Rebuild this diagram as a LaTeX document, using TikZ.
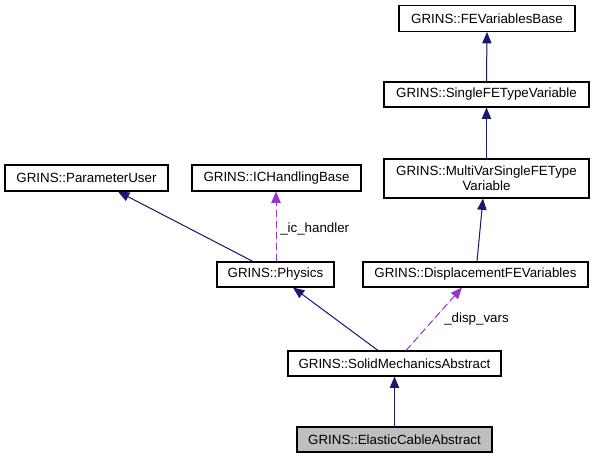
\documentclass[tikz,border=0pt]{standalone}
\usepackage{fontspec}
\setmainfont{Liberation Sans}
\usepackage{tikz}
\usetikzlibrary{arrows.meta,positioning,calc}

\definecolor{inhblue}{HTML}{191970}
\definecolor{usepurple}{HTML}{9A32CD}
\definecolor{curgray}{HTML}{BFBFBF}

\begin{document}
\begin{tikzpicture}[
  x=0.75pt, y=-0.75pt,
  font=\fontsize{10}{11}\selectfont,
  cls/.style={draw=black, line width=0.8pt, rectangle, inner sep=0pt, minimum height=25*0.75pt, align=center, fill=white},
  inh/.style={-{Triangle[length=8.5pt, width=7pt]}, line width=0.75pt, draw=inhblue, fill=inhblue},
  usage/.style={-{Triangle[length=8.5pt, width=7pt]}, line width=0.75pt, draw=usepurple, fill=usepurple, dash pattern=on 5.25pt off 3pt},
  lbl/.style={anchor=west, inner sep=0pt},
]
\useasboundingbox (0,0) rectangle (594,459);

% --- Right column: variables ---
\node[cls, minimum width=176*0.75pt, minimum height=26*0.75pt] (fevb) at (487,18.5) {GRINS::FEVariablesBase};
\node[cls, minimum width=205*0.75pt] (sfetv) at (486.5,94.5) {GRINS::SingleFETypeVariable};
\node[cls, minimum width=205*0.75pt, minimum height=39*0.75pt] (mvsfetv) at (486.5,178.5) {GRINS::MultiVarSingleFEType\\Variable};
\node[cls, minimum width=225*0.75pt] (dfev) at (475.5,274.5) {GRINS::DisplacementFEVariables};

% --- Left: physics bases ---
\node[cls, minimum width=163*0.75pt, minimum height=26*0.75pt] (pu) at (86.5,178) {GRINS::ParameterUser};
\node[cls, minimum width=169*0.75pt, minimum height=26*0.75pt] (ichb) at (276.5,178) {GRINS::ICHandlingBase};
\node[cls, minimum width=117*0.75pt] (phys) at (275.5,274.5) {GRINS::Physics};

% --- Bottom: solid mechanics ---
\node[cls, minimum width=213*0.75pt] (sma) at (394.5,363.5) {GRINS::SolidMechanicsAbstract};
\node[cls, fill=curgray, minimum width=195*0.75pt] (eca) at (394.5,439.5) {GRINS::ElasticCableAbstract};

% --- Inheritance ---
\draw[inh] (sfetv.north) -- (fevb.south);
\draw[inh] (mvsfetv.north) -- (sfetv.south);
\draw[inh] ($(dfev.north)+(1.5,0)$) -- ($(mvsfetv.south)+(-3.5,0)$);
\draw[inh] ($(phys.north)+(-22.5,0)$) -- ($(pu.south)+(31.5,0)$);
\draw[inh] ($(sma.north)+(-16.5,0)$) -- ($(phys.south)+(17.5,0)$);
\draw[inh] (eca.north) -- (sma.south);

% --- Usage ---
\draw[usage] ($(phys.north)+(0.5,0)$) -- ($(ichb.south)+(-0.5,0)$);
\node[lbl] (ichl) at (280,229) {\_ic\_handler};
\draw[usage] ($(sma.north)+(11.5,0)$) -- ($(dfev.south)+(-13.5,0)$);
\node[lbl] (dvl) at (444,319) {\_disp\_vars};

\end{tikzpicture}
\end{document}
